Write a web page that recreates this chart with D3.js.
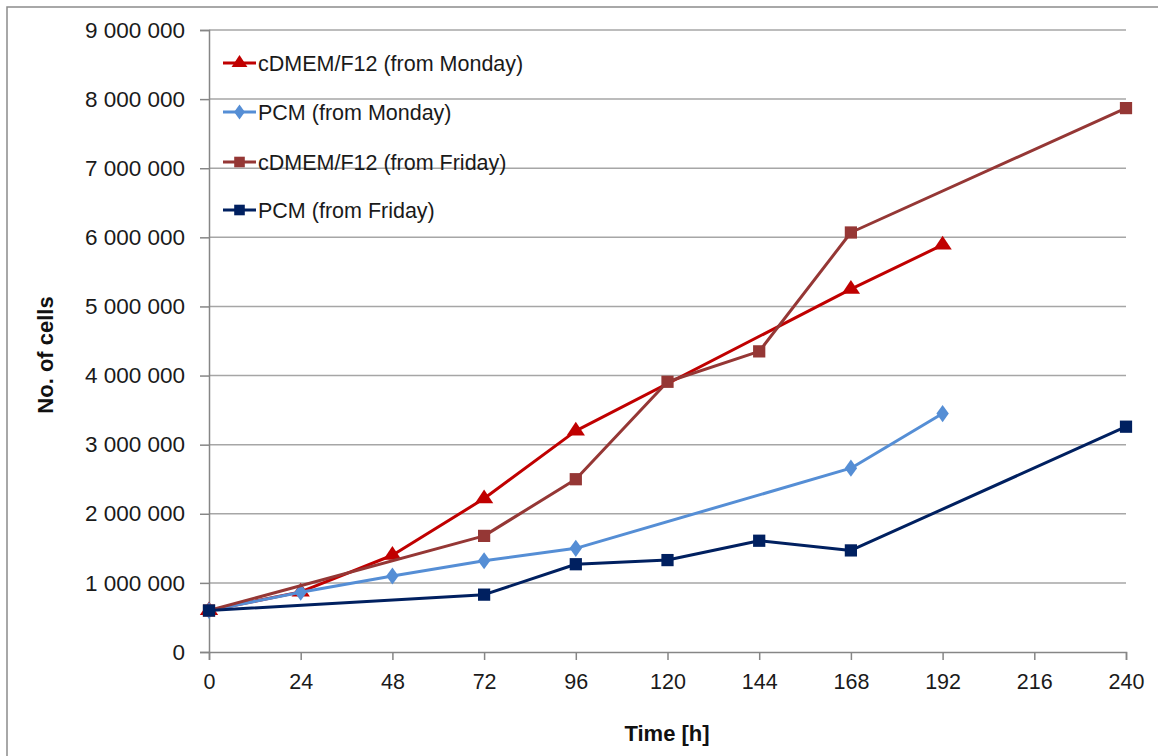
<!DOCTYPE html>
<html><head><meta charset="utf-8">
<script src="https://cdn.jsdelivr.net/npm/d3@7"></script>
<style>body{margin:0;background:#fff}svg{display:block}</style>
</head><body>
<svg id="c" width="1158" height="756"></svg>
<script>
const xTicks = [0,24,48,72,96,120,144,168,192,216,240];
const yTicks = [0,1000000,2000000,3000000,4000000,5000000,6000000,7000000,8000000,9000000];
const seriesNames = ["cDMEM/F12 (from Monday)","PCM (from Monday)","cDMEM/F12 (from Friday)","PCM (from Friday)"];
const seriesColors = ["#C00000","#558ED5","#953735","#002060"];
const seriesMarkers = ["triangle","diamond","square","square"];
const cdmemMonday = [[0,600000],[24,870000],[48,1400000],[72,2220000],[96,3200000],[168,5250000],[192,5890000]];
const pcmMonday = [[0,600000],[24,865000],[48,1100000],[72,1320000],[96,1500000],[168,2660000],[192,3450000]];
const cdmemFriday = [[0,600000],[72,1680000],[96,2500000],[120,3910000],[144,4350000],[168,6070000],[240,7870000]];
const pcmFriday = [[0,600000],[72,830000],[96,1270000],[120,1330000],[144,1610000],[168,1470000],[240,3260000]];
const allSeries = [cdmemMonday,pcmMonday,cdmemFriday,pcmFriday];

const svg = d3.select("#c");
const font = "'Liberation Sans', Arial, sans-serif";
const L = 209, R = 1126, T = 30, B = 652;
const x = d3.scaleLinear().domain([0,240]).range([L,R]);
const y = d3.scaleLinear().domain([0,9000000]).range([B,T]);

// chart border
svg.append("rect").attr("x",7).attr("y",7).attr("width",1170).attr("height",780)
  .attr("fill","none").attr("stroke","#8c8c8c").attr("stroke-width",1.5);

// gridlines
svg.append("g").selectAll("line").data(yTicks.filter(d=>d>0)).join("line")
  .attr("x1",L).attr("x2",R).attr("y1",d=>y(d)).attr("y2",d=>y(d))
  .attr("stroke","#a6a6a6").attr("stroke-width",1.5);

const fmt = d => d3.format(",")(d).replace(/,/g," ");
// y axis
const ya = svg.append("g").attr("transform",`translate(${L},0)`)
  .call(d3.axisLeft(y).tickValues(yTicks).tickFormat(fmt).tickSize(9).tickPadding(15));
ya.select(".domain").attr("stroke","#868686").attr("stroke-width",1.5);
ya.selectAll(".tick line").attr("stroke","#868686").attr("stroke-width",1.5);
ya.selectAll("text").attr("font-family",font).attr("font-size",22.5).attr("fill","#1a1a1a");

// x axis
const xa = svg.append("g").attr("transform",`translate(0,${B})`)
  .call(d3.axisBottom(x).tickValues(xTicks).tickSize(8).tickPadding(14));
xa.select(".domain").attr("stroke","#868686").attr("stroke-width",1.5);
xa.selectAll(".tick line").attr("stroke","#868686").attr("stroke-width",1.5);
xa.selectAll("text").attr("font-family",font).attr("font-size",21.5).attr("fill","#1a1a1a");

// axis titles
svg.append("text").attr("x",(L+R)/2 - 0.5).attr("y",741).attr("text-anchor","middle")
  .attr("font-family",font).attr("font-weight","bold").attr("font-size",22).attr("fill","#111")
  .text("Time [h]");
svg.append("text").attr("transform","translate(53,355) rotate(-90)").attr("text-anchor","middle")
  .attr("font-family",font).attr("font-weight","bold").attr("font-size",22).attr("fill","#111")
  .text("No. of cells");

const symbolFor = m => m==="triangle" ? d3.symbolTriangle : m==="diamond" ? d3.symbolDiamond : d3.symbolSquare;
const sizeFor = m => m==="triangle" ? 120 : m==="diamond" ? 85 : 150;
const shapeTf = m => m==="diamond" ? " scale(1.25,1)" : m==="triangle" ? " scale(1.1,0.95)" : "";

const line = d3.line().x(d=>x(d[0])).y(d=>y(d[1]));
allSeries.forEach((s,i)=>{
  const g = svg.append("g");
  g.append("path").datum(s).attr("d",line).attr("fill","none")
    .attr("stroke",seriesColors[i]).attr("stroke-width",3).attr("stroke-linejoin","round");
  g.selectAll("path.m").data(s).join("path").attr("class","m")
    .attr("transform",d=>`translate(${x(d[0])},${y(d[1])})${shapeTf(seriesMarkers[i])}`)
    .attr("d",d3.symbol().type(symbolFor(seriesMarkers[i])).size(sizeFor(seriesMarkers[i])))
    .attr("fill",seriesColors[i]);
});

// legend
const legY = [63,112,162,210];
seriesNames.forEach((n,i)=>{
  const g = svg.append("g").attr("transform",`translate(0,${legY[i]})`);
  g.append("line").attr("x1",223).attr("x2",256).attr("y1",0).attr("y2",0)
    .attr("stroke",seriesColors[i]).attr("stroke-width",3);
  g.append("path").attr("transform",`translate(239.5,0)${shapeTf(seriesMarkers[i])}`)
    .attr("d",d3.symbol().type(symbolFor(seriesMarkers[i])).size(sizeFor(seriesMarkers[i])*0.75))
    .attr("fill",seriesColors[i]);
  g.append("text").attr("x",258).attr("y",0).attr("dy","0.35em")
    .attr("font-family",font).attr("font-size",21.5).attr("fill","#1a1a1a").text(n);
});
</script>
</body></html>
